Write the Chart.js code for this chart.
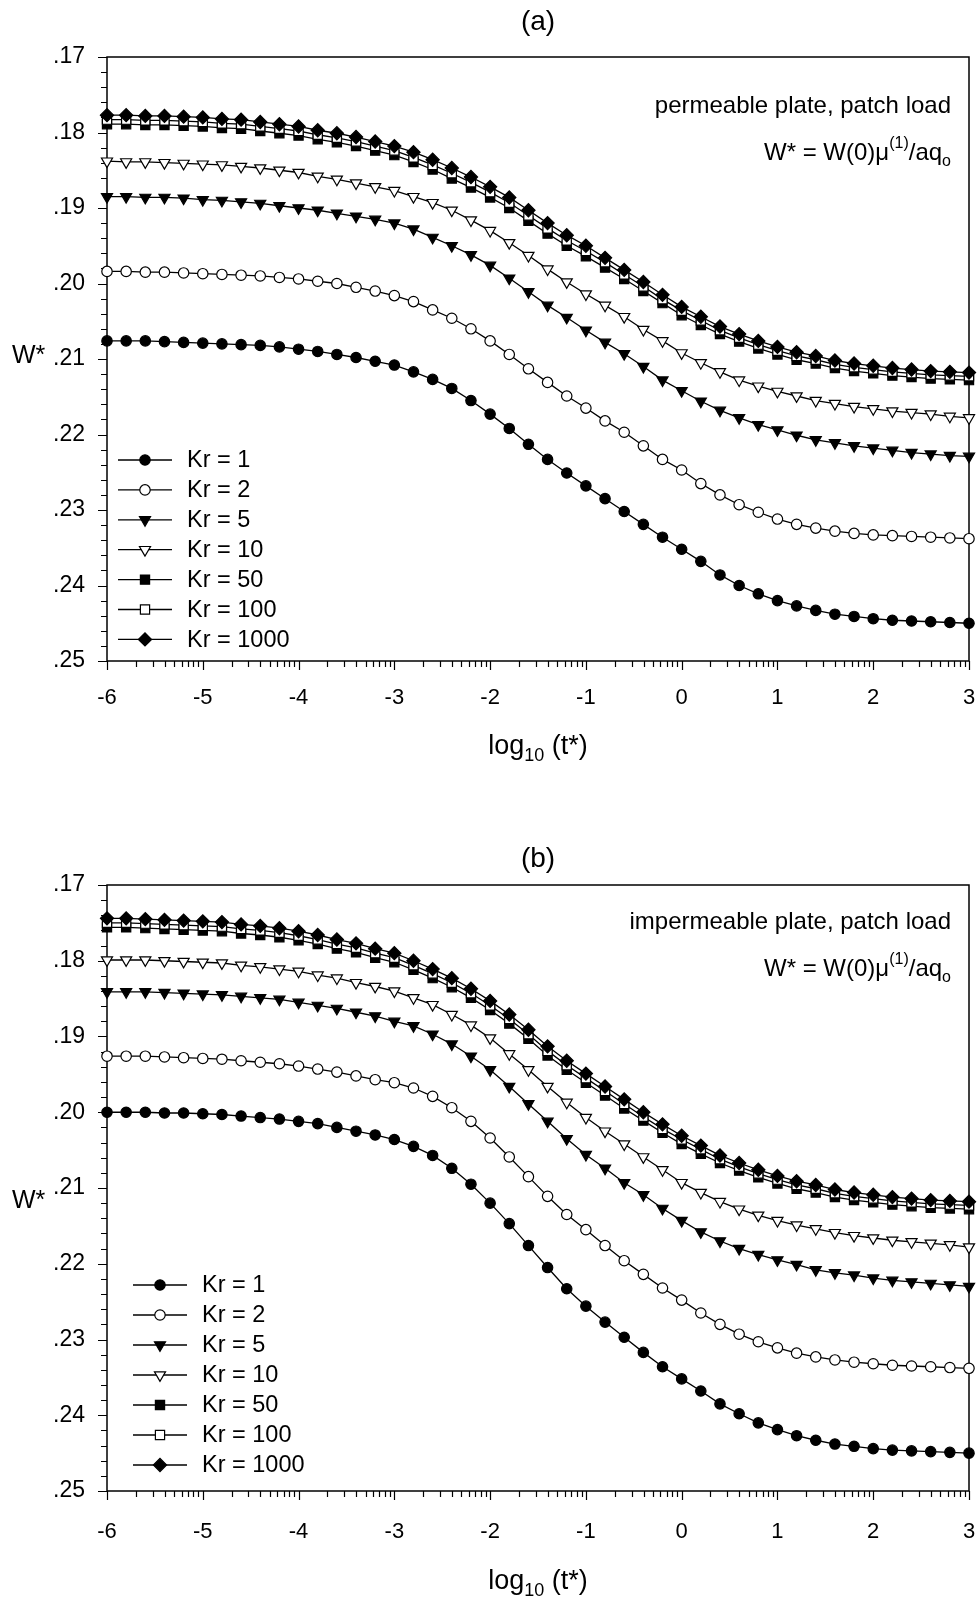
<!DOCTYPE html>
<html>
<head>
<meta charset="utf-8">
<title>W* versus log10(t*)</title>
<script src="https://cdn.jsdelivr.net/npm/chart.js@4.4.1/dist/chart.umd.min.js"></script>
<style>
  html, body { margin: 0; padding: 0; background: #fff; }
  body { width: 980px; height: 1598px; position: relative; overflow: hidden; }
  canvas { position: absolute; left: 0; }
  #chartA { top: 0; }
  #chartB { top: 828px; }
</style>
</head>
<body>
<canvas id="chartA" width="980" height="828"></canvas>
<canvas id="chartB" width="980" height="770"></canvas>
<script>
// log10(t*) sample points
const logT = [-6, -5.8, -5.6, -5.4, -5.2, -5, -4.8, -4.6, -4.4, -4.2, -4, -3.8, -3.6, -3.4, -3.2,
  -3, -2.8, -2.6, -2.4, -2.2, -2, -1.8, -1.6, -1.4, -1.2, -1, -0.8, -0.6, -0.4, -0.2,
  0, 0.2, 0.4, 0.6, 0.8, 1, 1.2, 1.4, 1.6, 1.8, 2, 2.2, 2.4, 2.6, 2.8, 3];

const krNames = ['Kr = 1', 'Kr = 2', 'Kr = 5', 'Kr = 10', 'Kr = 50', 'Kr = 100', 'Kr = 1000'];

// (a) permeable plate
const kr1A = [.2076, .2076, .2076, .2077, .2078, .2079, .2080, .2081, .2082, .2084, .2087, .2090, .2094, .2098, .2103,
  .2108, .2117, .2127, .2139, .2155, .2173, .2192, .2213, .2233, .2251, .2268, .2285, .2302, .2319, .2336,
  .2352, .2368, .2386, .2400, .2411, .2420, .2427, .2433, .2438, .2441, .2444, .2446, .2447, .2448, .2449, .2450];
const kr2A = [.1984, .1984, .1985, .1985, .1986, .1987, .1988, .1989, .1990, .1992, .1994, .1997, .2000, .2005, .2010,
  .2016, .2024, .2035, .2046, .2060, .2076, .2094, .2113, .2131, .2149, .2165, .2182, .2197, .2215, .2233,
  .2247, .2265, .2280, .2293, .2303, .2312, .2319, .2324, .2328, .2331, .2333, .2334, .2335, .2336, .2337, .2338];
const kr5A = [.1885, .1885, .1886, .1886, .1887, .1889, .1890, .1892, .1894, .1897, .1900, .1903, .1907, .1911, .1915,
  .1920, .1928, .1939, .1950, .1962, .1976, .1993, .2011, .2029, .2045, .2062, .2078, .2093, .2110, .2128,
  .2142, .2156, .2168, .2178, .2187, .2194, .2201, .2207, .2211, .2215, .2218, .2221, .2224, .2226, .2228, .2229];
const kr10A = [.1838, .1839, .1839, .1840, .1841, .1842, .1843, .1845, .1847, .1850, .1853, .1858, .1862, .1867, .1872,
  .1877, .1885, .1893, .1903, .1916, .1930, .1946, .1963, .1981, .1998, .2014, .2029, .2044, .2061, .2076,
  .2092, .2105, .2117, .2128, .2136, .2143, .2149, .2155, .2159, .2163, .2166, .2169, .2171, .2173, .2176, .2178];
const kr50A = [.1789, .1789, .1790, .1790, .1791, .1792, .1794, .1795, .1798, .1801, .1804, .1809, .1813, .1818, .1824,
  .1830, .1839, .1849, .1861, .1873, .1886, .1900, .1917, .1934, .1950, .1964, .1979, .1994, .2010, .2026,
  .2042, .2055, .2067, .2077, .2086, .2094, .2101, .2106, .2112, .2116, .2119, .2122, .2124, .2126, .2127, .2128];
const kr100A = [.1783, .1783, .1784, .1784, .1785, .1786, .1788, .1789, .1792, .1795, .1798, .1803, .1807, .1812, .1818,
  .1824, .1833, .1843, .1854, .1866, .1879, .1893, .1910, .1927, .1943, .1957, .1972, .1988, .2004, .2021,
  .2036, .2049, .2062, .2072, .2081, .2089, .2096, .2101, .2107, .2111, .2114, .2117, .2119, .2121, .2122, .2123];
const kr1000A = [.1777, .1777, .1778, .1778, .1779, .1780, .1782, .1783, .1786, .1789, .1792, .1797, .1801, .1806, .1812,
  .1818, .1826, .1836, .1847, .1859, .1872, .1886, .1903, .1920, .1936, .1950, .1966, .1982, .1998, .2015,
  .2031, .2044, .2057, .2067, .2076, .2084, .2091, .2096, .2102, .2106, .2109, .2112, .2114, .2116, .2117, .2118];

// (b) impermeable plate
const kr1B = [.2000, .2000, .2000, .2001, .2001, .2002, .2003, .2005, .2007, .2009, .2012, .2015, .2020, .2025, .2030,
  .2036, .2045, .2057, .2074, .2095, .2120, .2147, .2176, .2205, .2233, .2256, .2277, .2297, .2317, .2336,
  .2352, .2368, .2385, .2398, .2410, .2419, .2427, .2433, .2438, .2441, .2444, .2446, .2447, .2448, .2449, .2450];
const kr2B = [.1926, .1926, .1926, .1927, .1928, .1929, .1930, .1932, .1934, .1936, .1939, .1943, .1947, .1952, .1957,
  .1961, .1968, .1979, .1994, .2012, .2034, .2059, .2085, .2111, .2135, .2155, .2176, .2196, .2214, .2232,
  .2248, .2265, .2280, .2293, .2303, .2311, .2318, .2323, .2327, .2330, .2332, .2334, .2335, .2336, .2337, .2338];
const kr5B = [.1841, .1841, .1841, .1842, .1843, .1844, .1845, .1847, .1849, .1851, .1855, .1859, .1863, .1868, .1873,
  .1880, .1886, .1897, .1910, .1926, .1944, .1966, .1989, .2012, .2035, .2056, .2074, .2093, .2109, .2127,
  .2143, .2158, .2170, .2180, .2188, .2195, .2201, .2208, .2212, .2215, .2219, .2222, .2224, .2226, .2228, .2230];
const kr10B = [.1799, .1799, .1799, .1800, .1801, .1802, .1803, .1806, .1808, .1811, .1814, .1819, .1823, .1829, .1834,
  .1840, .1849, .1858, .1871, .1885, .1902, .1923, .1944, .1966, .1987, .2007, .2025, .2042, .2059, .2076,
  .2093, .2106, .2118, .2128, .2136, .2143, .2149, .2154, .2159, .2163, .2166, .2169, .2171, .2173, .2175, .2178];
const kr50B = [.1756, .1756, .1757, .1758, .1759, .1760, .1761, .1764, .1766, .1769, .1773, .1778, .1784, .1789, .1796,
  .1802, .1812, .1823, .1835, .1849, .1865, .1883, .1903, .1925, .1944, .1961, .1978, .1995, .2011, .2027,
  .2042, .2055, .2067, .2077, .2086, .2094, .2101, .2106, .2112, .2116, .2119, .2122, .2124, .2126, .2127, .2128];
const kr100B = [.1750, .1750, .1751, .1752, .1753, .1754, .1755, .1758, .1760, .1763, .1767, .1772, .1778, .1783, .1790,
  .1796, .1806, .1817, .1829, .1843, .1859, .1877, .1897, .1919, .1938, .1955, .1972, .1989, .2006, .2022,
  .2036, .2049, .2062, .2072, .2081, .2089, .2096, .2101, .2107, .2111, .2114, .2117, .2119, .2121, .2122, .2123];
const kr1000B = [.1744, .1744, .1745, .1746, .1747, .1748, .1749, .1752, .1754, .1757, .1761, .1766, .1772, .1777, .1784,
  .1790, .1800, .1811, .1823, .1837, .1853, .1871, .1891, .1913, .1932, .1949, .1966, .1983, .2000, .2016,
  .2031, .2044, .2057, .2067, .2076, .2084, .2091, .2096, .2102, .2106, .2109, .2112, .2114, .2116, .2117, .2118];

const FONT = "'Liberation Sans', Arial, Helvetica, sans-serif";
Chart.defaults.font.family = FONT;
Chart.defaults.color = '#000';

// marker look for each Kr curve
const markers = [
  { style: 'circle', fill: '#000', r: 5.2, rot: 0 },
  { style: 'circle', fill: '#fff', r: 5.2, rot: 0 },
  { style: 'triangle', fill: '#000', r: 6.4, rot: 180 },
  { style: 'triangle', fill: '#fff', r: 6.4, rot: 180 },
  { style: 'rect', fill: '#000', r: 6.5, rot: 0 },
  { style: 'rect', fill: '#fff', r: 6.5, rot: 0 },
  { style: 'rectRot', fill: '#000', r: 6.6, rot: 0 }
];

// text runs with optional superscript / subscript pieces
function drawRuns(ctx, runs, x, y, align, size) {
  const big = size + 'px ' + FONT, small = Math.round(size * 0.66) + 'px ' + FONT;
  let total = 0;
  runs.forEach(r => { ctx.font = r[1] ? small : big; total += ctx.measureText(r[0]).width; });
  let cx = align === 'right' ? x - total : align === 'center' ? x - total / 2 : x;
  ctx.textAlign = 'left';
  ctx.textBaseline = 'alphabetic';
  ctx.fillStyle = '#000';
  runs.forEach(r => {
    ctx.font = r[1] ? small : big;
    const dy = r[1] === 'sup' ? -size * 0.48 : r[1] === 'sub' ? size * 0.27 : 0;
    ctx.fillText(r[0], cx, y + dy);
    cx += ctx.measureText(r[0]).width;
  });
}

const framePlugin = {
  id: 'frame',
  beforeDatasetsDraw(chart) {
    const { ctx, chartArea: a, scales: { x, y } } = chart;
    ctx.save();
    ctx.strokeStyle = '#000';
    ctx.lineWidth = 1.5;
    ctx.strokeRect(a.left, a.top, a.right - a.left, a.bottom - a.top);
    ctx.lineWidth = 1.2;
    ctx.beginPath();
    // y ticks every .002, longer at every .01
    for (let k = 0; k <= 40; k++) {
      const py = Math.round(y.getPixelForValue(0.17 + k * 0.002)) + 0.5;
      const len = k % 5 === 0 ? 9 : 6;
      ctx.moveTo(a.left - len, py);
      ctx.lineTo(a.left, py);
    }
    // x ticks: decades plus log-spaced minor ticks
    for (let d = -6; d <= 3; d++) {
      const px = Math.round(x.getPixelForValue(d)) + 0.5;
      ctx.moveTo(px, a.bottom);
      ctx.lineTo(px, a.bottom + 9);
      if (d < 3) {
        for (let m = 2; m <= 9; m++) {
          const mx = Math.round(x.getPixelForValue(d + Math.log10(m))) + 0.5;
          ctx.moveTo(mx, a.bottom);
          ctx.lineTo(mx, a.bottom + 6);
        }
      }
    }
    ctx.stroke();
    ctx.restore();
  },
  afterDraw(chart, args, opts) {
    const { ctx, chartArea: a } = chart;
    const cx = (a.left + a.right) / 2;
    ctx.save();
    drawRuns(ctx, [[opts.title]], cx, opts.titleY, 'center', 28);
    drawRuns(ctx, [[opts.note]], 951, a.top + opts.noteY, 'right', 24);
    drawRuns(ctx, [['W* = W(0)\u03bc'], ['(1)', 'sup'], ['/aq'], ['o', 'sub']], 951, a.top + opts.noteY + 47, 'right', 24);
    drawRuns(ctx, [['log'], ['10', 'sub'], [' (t*)']], cx, a.bottom + opts.xTitleY, 'center', 27);
    drawRuns(ctx, [['W*']], 12, a.top + opts.yTitleY, 'left', 25);

    // legend inside the plot
    const lg = opts.legend;
    chart.data.datasets.forEach((ds, i) => {
      const yy = lg.y + i * lg.gap;
      const mk = markers[i];
      ctx.strokeStyle = '#000';
      ctx.lineWidth = 1.3;
      ctx.beginPath();
      ctx.moveTo(lg.x, yy);
      ctx.lineTo(lg.x + 54, yy);
      ctx.stroke();
      ctx.fillStyle = mk.fill;
      ctx.lineWidth = 1.2;
      Chart.helpers.drawPoint(ctx, { pointStyle: mk.style, radius: mk.r, rotation: mk.rot, borderWidth: 1.2 }, lg.x + 27, yy);
      ctx.fillStyle = '#000';
      ctx.font = '23.5px ' + FONT;
      ctx.textAlign = 'left';
      ctx.textBaseline = 'middle';
      ctx.fillText(ds.label, lg.x + 69, yy + 1);
    });
    ctx.restore();
  }
};

function makeChart(id, series, bottomPad, labelPad, frameOpts) {
  const datasets = series.map((vals, i) => ({
    label: krNames[i],
    data: logT.map((t, j) => ({ x: t, y: vals[j] })),
    borderColor: '#000',
    borderWidth: 1.3,
    tension: 0,
    pointStyle: markers[i].style,
    pointRotation: markers[i].rot,
    pointRadius: markers[i].r,
    pointBackgroundColor: markers[i].fill,
    pointBorderColor: '#000',
    pointBorderWidth: 1.2,
    clip: false,
    order: series.length - 1 - i
  }));

  return new Chart(document.getElementById(id), {
    type: 'line',
    data: { datasets },
    options: {
      responsive: false,
      animation: false,
      devicePixelRatio: 1,
      layout: { padding: { top: 57, right: 11, bottom: bottomPad, left: 0 } },
      plugins: {
        legend: { display: false },
        tooltip: { enabled: false },
        frame: frameOpts
      },
      scales: {
        x: {
          type: 'linear', min: -6, max: 3,
          grid: { display: false, drawTicks: false },
          border: { display: false },
          ticks: { stepSize: 1, padding: labelPad, color: '#000', font: { size: 22 }, callback: v => String(v) },
          afterFit: s => { s.height = 60; s.paddingLeft = 0; s.paddingRight = 0; }
        },
        y: {
          type: 'linear', reverse: true, min: 0.17, max: 0.25,
          grid: { display: false, drawTicks: false },
          border: { display: false },
          ticks: { stepSize: 0.01, padding: 22, color: '#000', font: { size: 23 }, callback: v => Number(v).toFixed(2).slice(1) },
          afterFit: s => { s.width = 107; }
        }
      }
    },
    plugins: [framePlugin]
  });
}

makeChart('chartA', [kr1A, kr2A, kr5A, kr10A, kr50A, kr100A, kr1000A], 828 - 661 - 60, 24, {
  title: '(a)', titleY: 30,
  note: 'permeable plate, patch load', noteY: 56,
  xTitleY: 93, yTitleY: 306,
  legend: { x: 118, y: 460, gap: 29.9 }
});

makeChart('chartB', [kr1B, kr2B, kr5B, kr10B, kr50B, kr100B, kr1000B], 770 - 663 - 60, 28, {
  title: '(b)', titleY: 39,
  note: 'impermeable plate, patch load', noteY: 44,
  xTitleY: 98, yTitleY: 323,
  legend: { x: 133, y: 457, gap: 30 }
});
</script>
</body>
</html>
